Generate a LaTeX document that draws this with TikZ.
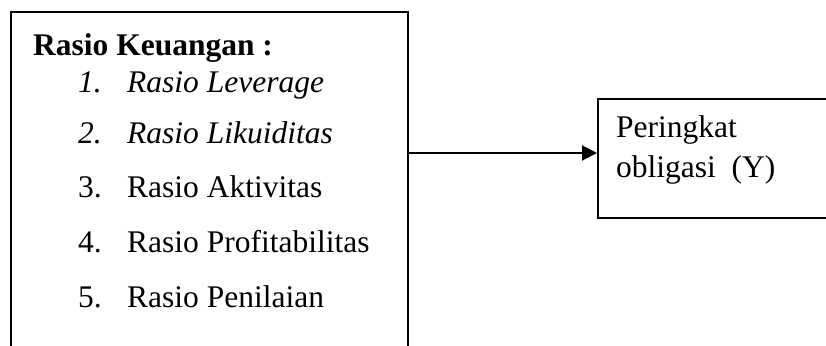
\documentclass[tikz,border=0pt]{standalone}
\usepackage{fontspec}
\setmainfont{Liberation Serif}
\usetikzlibrary{arrows.meta}
\begin{document}
\begin{tikzpicture}[x=1pt,y=-1pt,
  box/.style={draw=black,line width=2pt,rectangle,inner sep=0pt,anchor=north west},
  txt/.style={anchor=base west,inner sep=0pt,font=\fontsize{31.5}{37}\selectfont},
  conn/.style={line width=2pt,-{Triangle[length=15pt,width=15pt]}}]
\useasboundingbox (0,0) rectangle (826,345);
\clip (0,0) rectangle (826,345);
\node[box,minimum width=397pt,minimum height=420pt] (src) at (10,11) {};
\node[box,minimum width=320pt,minimum height=119pt] (dst) at (597,98) {};
\coordinate (lvl) at (500,153);
\draw[conn] (src.east |- lvl) -- (dst.west |- lvl);
\node[txt,font=\fontsize{31.5}{37}\selectfont\bfseries] (head) at (33,56) {Rasio Keuangan :};
\node[txt,font=\fontsize{31.5}{37}\selectfont\itshape] (n1) at (78,92) {1.};
\node[txt,font=\fontsize{31.5}{37}\selectfont\itshape] (t1) at (127,92) {Rasio Leverage};
\node[txt,font=\fontsize{31.5}{37}\selectfont\itshape] (n2) at (78,143) {2.};
\node[txt,font=\fontsize{31.5}{37}\selectfont\itshape] (t2) at (127,143) {Rasio Likuiditas};
\node[txt] (n3) at (78,197) {3.};
\node[txt] (t3) at (127,197) {Rasio Aktivitas};
\node[txt] (n4) at (78,252) {4.};
\node[txt] (t4) at (127,252) {Rasio Profitabilitas};
\node[txt] (n5) at (78,307) {5.};
\node[txt] (t5) at (127,307) {Rasio Penilaian};
\node[txt] (p1) at (616,137) {Peringkat};
\node[txt] (p2) at (616,177) {obligasi\ \ (Y)};
\end{tikzpicture}
\end{document}
